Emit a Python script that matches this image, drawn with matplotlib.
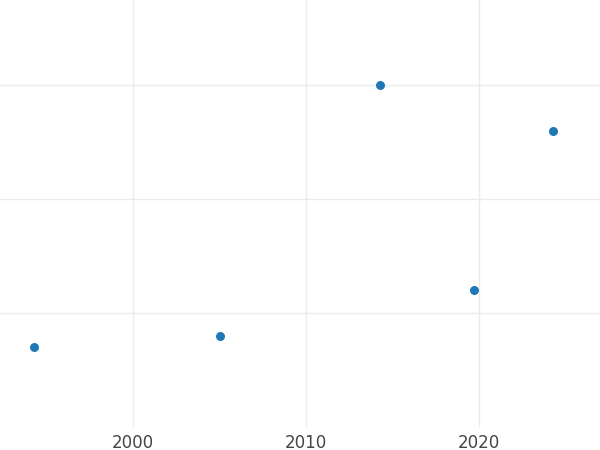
import matplotlib
matplotlib.use("Agg")
import matplotlib.pyplot as plt

years = [1994.3, 2005.0, 2014.3, 2019.7, 2024.3]
values = [0.70, 0.80, 3.00, 1.20, 2.60]
x_ticks = [2000, 2010, 2020]
y_ticks = [1, 2, 3]

fig = plt.figure(figsize=(6, 4.5), dpi=100)
ax = fig.add_axes([0, 23 / 450, 1, 427 / 450])

ax.scatter(years, values, s=42, color="#1f77b4", zorder=3, linewidths=0)

ax.set_xlim(1992.31, 2026.99)
ax.set_ylim(0, 3.746)
ax.set_xticks(x_ticks)
ax.set_yticks(y_ticks)
ax.set_yticklabels([])
ax.grid(True, color="#ebebeb", linewidth=1)
ax.set_axisbelow(True)
ax.tick_params(axis="both", length=0, labelsize=12, labelcolor="#444444", pad=5)
for s in ax.spines.values():
    s.set_visible(False)

fig.savefig("out.png", dpi=100)
